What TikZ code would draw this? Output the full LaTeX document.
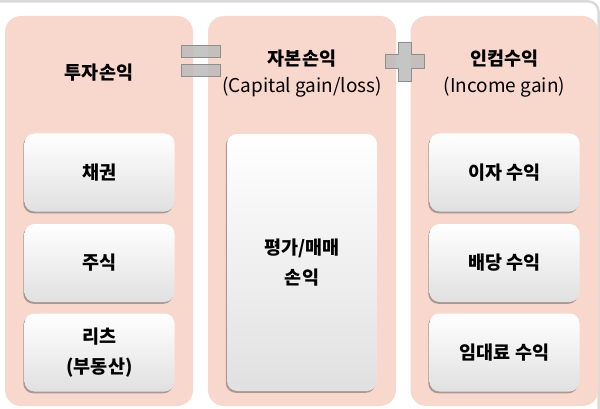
\documentclass[tikz,border=0pt]{standalone}
\usepackage{fontspec}
\setmainfont{Noto Sans CJK KR}
\usetikzlibrary{shadows}

\definecolor{colpink}{HTML}{F8D7CC}
\definecolor{framegray}{HTML}{DADADA}
\definecolor{opfill}{HTML}{BBBBBB}
\definecolor{opline}{HTML}{8E8E8E}

\begin{document}
\begin{tikzpicture}[x=1pt,y=-1pt]
	\useasboundingbox (0,0) rectangle (600,409);
	% outer frame
	\draw[framegray, line width=2.5pt, rounded corners=10pt] (0,1.5) -- (598.5,1.5) -- (598.5,409);
	\begin{scope}[every node/.style = {fill=colpink, rounded corners=16pt, inner sep=0pt,
			minimum width=188pt, minimum height=390pt}]
		\node (C1) at (99,211) {};
		\node (C2) at (302,211) {};
		\node (C3) at (504.5,211) {};
	\end{scope}
	\begin{scope}[every node/.style = {align=center, font=\fontsize{18.5}{27}\selectfont}]
		\node (H1) at (99,73) {\bfseries 투자손익};
		\node (H2) at (302,73.5) {\bfseries 자본손익\\{\fontsize{19}{27}\selectfont(Capital gain/loss)}};
		\node (H3) at (504.5,73.5) {\bfseries 인컴수익\\{\fontsize{19}{27}\selectfont(Income gain)}};
	\end{scope}
	\begin{scope}[every node/.style = {rounded corners=10pt, inner sep=0pt, align=center,
			top color=white, bottom color=black!12, minimum width=150pt, minimum height=78pt,
			font=\fontsize{18.5}{30}\selectfont\bfseries,
			drop shadow={shadow xshift=-1.2pt, shadow yshift=-1.8pt, opacity=0.5, fill=black!65}}]
		\node (B1) at (99.5,172.5) {채권};
		\node (B2) at (99.5,263) {주식};
		\node (B3) at (99.5,352.5) {리츠\\(부동산)};
		\node[minimum height=257pt] (B4) at (302,262.5) {평가/매매\\손익};
		\node (B5) at (504.5,172.5) {이자 수익};
		\node (B6) at (504.5,263) {배당 수익};
		\node (B7) at (504.5,352.5) {임대료 수익};
	\end{scope}
	\begin{scope}[fill=opfill, draw=opline, fill opacity=0.85, line width=0.8pt]
		% equals
		\filldraw (181,45) rectangle (220,57);
		\filldraw (181,64) rectangle (220,76);
		% plus
		\filldraw (398,42) -- (411,42) -- (411,54) -- (424,54) -- (424,68) -- (411,68)
			-- (411,81) -- (398,81) -- (398,68) -- (385,68) -- (385,54) -- (398,54) -- cycle;
	\end{scope}
\end{tikzpicture}
\end{document}
